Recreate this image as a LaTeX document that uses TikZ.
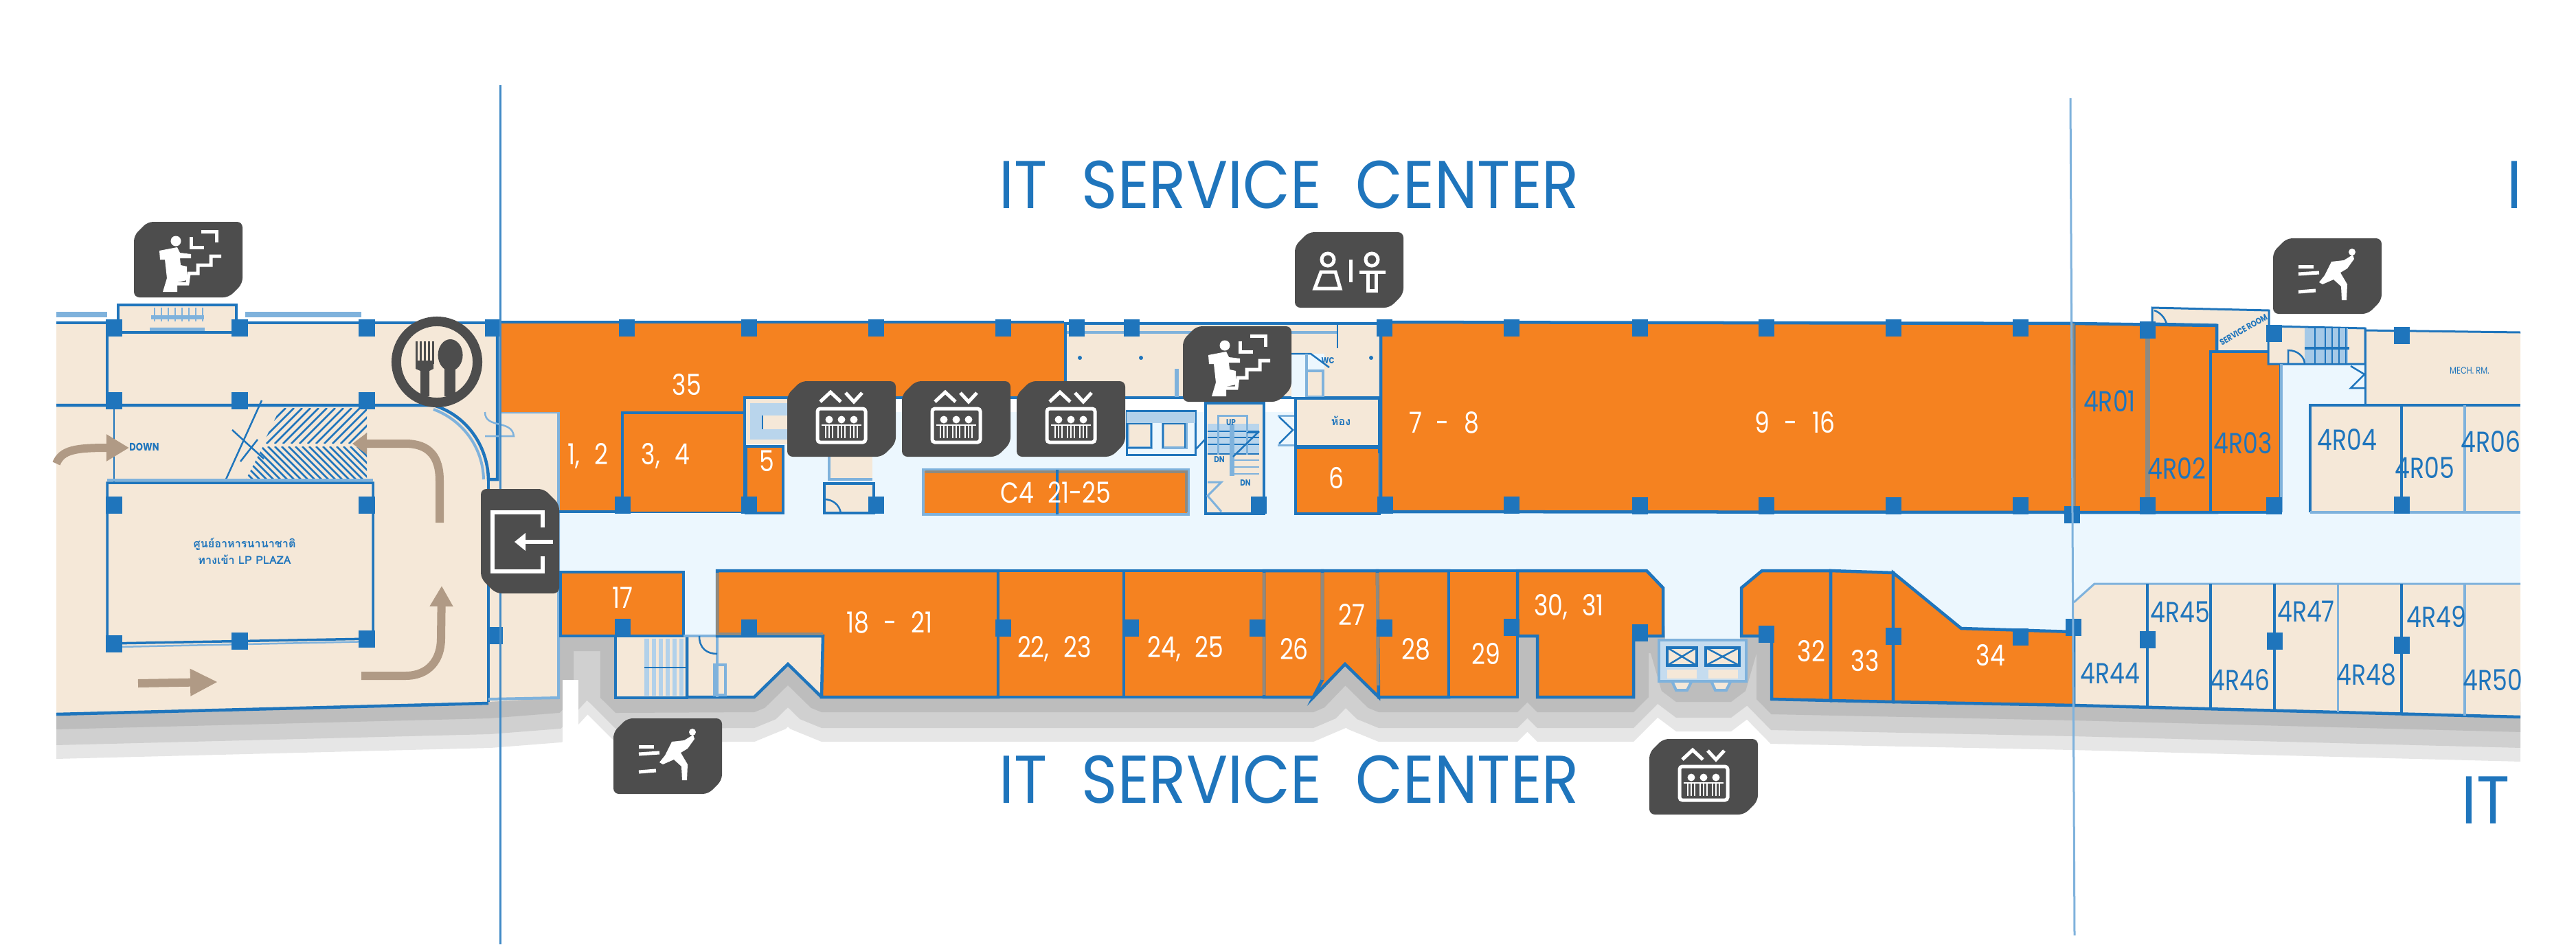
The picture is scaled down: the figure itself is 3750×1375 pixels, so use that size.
\documentclass[tikz,border=0pt]{standalone}
\usepackage{fontspec}
\usepackage{tikz}
\usetikzlibrary{calc, arrows.meta}
\setmainfont{Poppins}
\newfontfamily\unitfont[FakeStretch=0.82]{Poppins}
\newfontfamily\rfont[FakeStretch=0.82]{Poppins}
\newfontfamily\titlefont[FakeStretch=0.905]{Poppins}
\newfontfamily\thaifont[Script=Thai]{Loma}
\definecolor{wallblue}{HTML}{1F75BC}
\definecolor{lightwall}{HTML}{7FB2DC}
\definecolor{greywall}{HTML}{8F8A80}
\definecolor{shoporange}{HTML}{F58220}
\definecolor{roomcream}{HTML}{F5E8D8}
\definecolor{walkway}{HTML}{ECF7FE}
\definecolor{signgrey}{HTML}{4D4D4D}
\definecolor{arrowtan}{HTML}{B09A85}
\newcommand{\signbody}{\fill[signgrey, rounded corners=0.08cm] (-79,-35) -- (-59,-55) -- (79,-55) -- (79,35) -- (59,55) -- (-79,55) -- cycle;}
\newcommand{\wordgap}{\hspace{0.5cm}}
\newcommand{\unitsetup}{\unitfont\fontsize{12}{12}\selectfont\spaceskip=0.5em\relax}
\tikzset{
  wall/.style={draw=wallblue, line width=0.045cm},
  thinwall/.style={draw=wallblue, line width=0.025cm},
  softwall/.style={draw=lightwall, line width=0.04cm},
  dullwall/.style={draw=greywall, line width=0.045cm},
  shop/.style={fill=shoporange, wall},
  room/.style={fill=roomcream, wall},
  colbox/.style={fill=wallblue, minimum width=0.23cm, minimum height=0.25cm, inner sep=0pt},
  unitlabel/.style={text=white, font=\unitsetup, inner sep=0pt},
  rlabel/.style={text=wallblue, font=\rfont\fontsize{12}{12}\selectfont, inner sep=0pt},
  tinylabel/.style={text=wallblue, font=\rfont\bfseries\fontsize{3.6}{4}\selectfont, inner sep=0pt},
  thailabel/.style={text=wallblue, font=\thaifont\bfseries\fontsize{4.6}{5}\selectfont, inner sep=0pt},
  bigtitle/.style={text=wallblue, font=\titlefont\fontsize{28}{28}\selectfont, inner sep=0pt},
  glyph/.style={draw=white, line width=0.05cm},
  tanarrow/.style={draw=arrowtan, line width=0.12cm},
  liftsign/.pic={
    \signbody
    \draw[glyph] (-31,-25) -- (-16,-39) -- (-1,-25);
    \draw[glyph] (6,-38) -- (18,-25) -- (30,-38);
    \draw[glyph, rounded corners=0.04cm] (-35,-15) rectangle (35,34);
    \draw[draw=white, line width=0.025cm] (-29,9) -- (29,9);
    \foreach \p in {-18,0,18} {
      \fill[white] (\p,1) circle [radius=0.055cm];
      \foreach \q in {-5,0,5} \draw[draw=white, line width=0.027cm] (\p+\q,9) -- (\p+\q,28);
    }
  },
  stairsign/.pic={
    \signbody
    \fill[white] (-18,-27) circle [radius=0.075cm];
    \fill[white] (-42,-13) -- (-16,-18) -- (-12,-10) -- (4,-8) -- (4,-2) -- (-12,-2) -- (-11,8) -- (-2,10) -- (-2,30) -- (-16,33) -- (-16,47) -- (-37,47) -- (-31,27) -- (-34,0) -- (-41,0) -- cycle;
    \draw[glyph] (-16,35) -- (-1,35) -- (1,20) -- (14,20) -- (14,8) -- (33,8) -- (33,-5) -- (48,-5);
    \draw[glyph] (19,-41) -- (41,-41) -- (41,-25);
    \draw[glyph] (4,-33) -- (4,-18) -- (23,-18);
  },
  runsign/.pic={
    \signbody
    \fill[white] (-4,-1) -- (6,-21) -- (24,-23) -- (37,-31) -- (39,-25) -- (29,-11) -- (19,-5) -- (29,12) -- (28,35) -- (21,35) -- (20,15) -- (9,5) -- (-7,12) -- (-12,9) -- cycle;
    \fill[white] (36,-35) circle [radius=0.05cm];
    \draw[glyph, line width=0.05cm] (-42,-14) -- (-20,-14);
    \draw[glyph, line width=0.05cm] (-42,-3) -- (-12,-5);
    \draw[glyph, line width=0.05cm] (-42,23) -- (-17,21);
  },
  wcsign/.pic={
    \signbody
    \draw[glyph] (-31,-15) circle [radius=0.09cm];
    \draw[glyph] (33,-15) circle [radius=0.09cm];
    \draw[glyph] (-41,3) -- (-20,3) -- (-13,27) -- (-50,27) -- cycle;
    \draw[glyph] (15,3) -- (53,3) -- (39,3) -- (39,30) -- (27,30) -- (27,3);
    \draw[glyph] (2,-15) -- (2,18);
  },
  exitsign/.pic={
    \fill[signgrey, rounded corners=0.08cm] (-57,-76) -- (35,-76) -- (57,-54) -- (57,76) -- (-35,76) -- (-57,54) -- cycle;
    \draw[glyph, line width=0.055cm] (33,-20) -- (33,-42) -- (-40,-42) -- (-40,44) -- (33,44) -- (33,22);
    \draw[draw=white, line width=0.06cm] (48,1) -- (4,1);
    \fill[white] (-8,1) -- (8,-12) -- (8,14) -- cycle;
  }
}
\begin{document}
\begin{tikzpicture}[-, x=0.01cm, y=-0.01cm]
\useasboundingbox (0,0) rectangle (3750,1375);
\begin{scope}
\clip (82,400) rectangle (3669,1200);
\foreach \w/\c in {1.3/E6E6E6, 0.9/D0D0D0, 0.44/BDBDBD} {
  \definecolor{shadowtone}{HTML}{\c}
  \draw[draw=shadowtone, line width=\w cm, line join=bevel] (0,1042) -- (711,1024) -- (813,1016) -- (813,926) -- (896,926) -- (896,1016) -- (1098,1015) -- (1147,967) -- (1196,1015) -- (1912,1015) -- (1958,967) -- (2007,1015) -- (2209,1015) -- (2209,926) -- (2238,926) -- (2238,1015) -- (2378,1015) -- (2378,926) -- (2420,931) -- (2440,1000) -- (2520,1000) -- (2540,931) -- (2579,926) -- (2579,1018) -- (3019,1027) -- (3750,1046);
}
\fill[white] (819,990) rectangle (842,1085);
\end{scope}
\fill[walkway] (813,600) -- (3320,600) -- (3320,530) -- (3442,530) -- (3442,590) -- (3363,590) -- (3363,746) -- (3669,746) -- (3669,850) -- (3049,850) -- (3019,877) -- (3019,920) -- (2855,915) -- (2756,834) -- (2565,831) -- (2535,856) -- (2533,931) -- (2424,931) -- (2421,856) -- (2397,831) -- (1044,831) -- (1044,926) -- (995,926) -- (995,833) -- (813,833) -- cycle;
\fill[roomcream] (82,470) -- (728,470) -- (728,600) -- (813,600) -- (813,1016) -- (711,1022) -- (82,1040) -- cycle;
\draw[wall] (82,470) -- (156,470);
\draw[wall] (344,470) -- (728,470);
\draw[softwall, line width=0.08cm] (82,458) -- (156,458);
\draw[softwall, line width=0.08cm] (357,458) -- (526,458);
\draw[room] (172,484) -- (172,444) -- (344,444) -- (344,484) -- cycle;
\draw[softwall, line width=0.06cm] (220,462) -- (297,462);
\foreach \t in {225,235,...,295} \draw[softwall, line width=0.02cm] (\t,448) -- (\t,468);
\draw[softwall, line width=0.05cm] (218,479) -- (298,479);
\draw[wall] (156,470) -- (156,590);
\draw[wall] (82,590) -- (631,590) .. controls (680,605) and (710,650) .. (711,698) -- (724,698) -- (724,470);
\draw[softwall] (631,596) .. controls (672,611) and (703,650) .. (704,698);
\draw[thinwall] (166,590) -- (166,703);
\draw[wall] (711,698) -- (711,1022);
\draw[wall] (82,1040) -- (711,1024);
\draw[softwall] (711,1018) -- (813,1016) -- (813,600) -- (728,600);
\begin{scope}
\clip (408,594) -- (534,594) -- (534,646) -- (383,646) -- cycle;
\foreach \h in {340,352,...,540} \draw[thinwall] (\h,646) -- (\h+52,594);
\end{scope}
\begin{scope}
\clip (383,650) -- (534,650) -- (534,698) -- (358,698) -- cycle;
\foreach \h in {310,320,...,540} \draw[thinwall] (\h,650) -- (\h+48,698);
\end{scope}
\draw[thinwall] (328,700) -- (381,583);
\draw[thinwall] (338,626) -- (384,668);
\draw[thinwall] (350,672) -- (375,640);
\draw[softwall, line width=0.025cm] (706,600) .. controls (706,625) and (745,610) .. (748,635) -- (706,635);
\draw[tanarrow, -{Triangle[width=0.37cm, length=0.33cm]}] (82,675) .. controls (90,655) and (110,652) .. (188,652);
\draw[tanarrow, -{Triangle[width=0.3cm, length=0.21cm]}] (640,761) -- (640,700) .. controls (640,665) and (625,646) .. (590,646) -- (513,646);
\draw[tanarrow, -{Triangle[width=0.32cm, length=0.3cm]}] (526,984) -- (590,984) .. controls (625,984) and (642,960) .. (642,930) -- (643,853);
\draw[tanarrow, -{Triangle[width=0.37cm, length=0.4cm]}] (201,995) -- (317,993);
\draw[room, thinwall, line width=0.035cm] (156,703) -- (543,703) -- (543,930) -- (156,937) -- cycle;
\draw[softwall] (156,699) -- (543,699);
\draw[softwall, line width=0.025cm] (170,942) -- (543,934);
\node[thailabel] (foodname) at (356,792) {ศูนย์อาหารนานาชาติ};
\node[thailabel] (foodplaza) at (356,815) {ทางเข้า LP PLAZA};
\node[tinylabel, font=\rfont\bfseries\fontsize{4.5}{5}\selectfont] (downmark) at (210,651) {DOWN};
\draw[shop, draw=none] (728,469) -- (1549,469) -- (1549,579) -- (1084,579) -- (1084,601) -- (906,601) -- (906,745) -- (813,745) -- (813,600) -- (728,600) -- cycle;
\draw[wall] (728,469) -- (1549,469);
\draw[softwall] (813,600) -- (813,745);
\draw[wall] (813,745) -- (1086,745);
\draw[wall] (906,745) -- (906,601) -- (1084,601) -- (1084,579);
\draw[shop, draw=none] (906,601) rectangle (1084,745);
\draw[wall] (906,745) -- (906,601) -- (1084,601) -- (1084,745);
\fill[roomcream] (1084,579) rectangle (1151,647);
\draw[wall] (1084,647) -- (1084,579) -- (1549,579);
\fill[lightwall!55] (1092,587) rectangle (1150,640);
\fill[roomcream] (1110,605) rectangle (1150,625);
\draw[thinwall] (1110,605) -- (1110,625);
\draw[shop] (1086,650) rectangle (1140,747);
\fill[roomcream] (1207,663) rectangle (1270,698);
\draw[softwall] (1207,663) -- (1207,698) -- (1270,698);
\draw[room, thinwall, line width=0.035cm] (1200,704) rectangle (1272,747);
\draw[thinwall] (1200,727) .. controls (1212,727) and (1222,735) .. (1224,747);
\draw[softwall, fill=roomcream] (1642,612) rectangle (1676,652);
\draw[softwall, fill=roomcream] (1693,612) rectangle (1727,652);
\draw[wall, draw=wallblue, line width=0.03cm] (1640,598) rectangle (1740,662);
\fill[lightwall!60] (1640,600) rectangle (1740,616);
\draw[thinwall] (1640,617) -- (1676,617) -- (1676,652) -- (1642,652);
\draw[thinwall] (1693,652) -- (1693,617) -- (1725,617) -- (1725,652);
\draw[thinwall] (1740,655) -- (1754,640);
\draw[room] (1551,471) -- (2010,471) -- (2010,579) -- (1551,579) -- cycle;
\fill[walkway] (1880,515) -- (1928,515) -- (1928,578) -- (1880,578) -- cycle;
\draw[softwall] (1553,484) -- (1947,484);
\draw[thinwall] (1880,515) -- (1908,515) -- (1935,535);
\draw[softwall, fill=roomcream] (1902,515) -- (1902,578) -- (1926,578) -- (1926,540) -- (1902,540);
\draw[thinwall] (1947,471) -- (1947,507);
\draw[softwall, line width=0.06cm] (1713,537) -- (1713,578);
\foreach \dx in {1572,1661,1996} \fill[wallblue] (\dx,521) circle [radius=0.03cm];
\draw[room] (1755,587) rectangle (1840,748);
\fill[lightwall!55] (1758,617) rectangle (1833,662);
\foreach \s in {628,637,647,661} \draw[thinwall] (1758,\s) -- (1833,\s);
\foreach \s in {670,680,690} \draw[softwall, line width=0.02cm] (1793,\s) -- (1833,\s);
\draw[softwall, line width=0.03cm] (1773,662) -- (1773,605) -- (1815,605) -- (1815,662);
\draw[softwall, line width=0.07cm] (1793,617) -- (1793,693);
\draw[thinwall] (1815,630) -- (1833,630);
\draw[thinwall] (1795,665) -- (1833,628);
\draw[softwall, line width=0.03cm] (1758,702) -- (1778,702) -- (1758,722) -- (1778,745);
\draw[softwall, line width=0.03cm] (1860,605) -- (1885,605);
\draw[softwall, line width=0.03cm] (1860,648) -- (1885,648);
\draw[thinwall] (1862,607) -- (1882,626) -- (1862,646);
\draw[room] (1886,580) rectangle (2008,650);
\draw[shop] (1886,652) rectangle (2008,748);
\draw[dullwall] (2008,660) -- (2008,740);
\draw[shop] (2010,469) -- (3019,471) -- (3019,746) -- (2010,745) -- cycle;
\draw[shop, draw=lightwall] (1344,684) rectangle (1730,749);
\draw[dullwall] (1347,687) -- (1727,687) -- (1727,746);
\draw[wall] (1539,684) -- (1539,749);
\draw[room, thinwall, line width=0.03cm] (3133,448) -- (3303,452) -- (3303,512) -- (3227,512) -- (3227,473) -- (3133,471) -- cycle;
\draw[thinwall] (3136,452) .. controls (3145,455) and (3152,463) .. (3154,472);
\draw[shop] (3019,471) -- (3227,474) -- (3227,746) -- (3019,746) -- cycle;
\draw[shop] (3218,512) -- (3320,512) -- (3320,746) -- (3218,746) -- cycle;
\draw[dullwall, line width=0.07cm] (3126,475) -- (3126,746);
\draw[dullwall, line width=0.06cm] (3017,471) -- (3018,746);
\draw[room, line width=0.03cm] (3302,475) -- (3443,478) -- (3443,530) -- (3302,530) -- cycle;
\fill[lightwall!70] (3355,478) rectangle (3418,528);
\foreach \t in {3370,3385,3395,3405,3415} \draw[thinwall] (\t,478) -- (\t,530);
\draw[wall] (3355,507) -- (3420,507);
\draw[thinwall] (3331,530) -- (3331,510) .. controls (3345,510) and (3355,520) .. (3355,530);
\draw[thinwall] (3422,533) -- (3442,545) -- (3422,565) -- (3442,565);
\draw[softwall] (3321,530) -- (3321,746);
\fill[roomcream] (3443,481) -- (3669,484) -- (3669,589) -- (3443,589) -- cycle;
\draw[wall, line width=0.03cm] (3443,481) -- (3669,484);
\draw[wall, line width=0.03cm] (3443,478) -- (3443,589) -- (3669,589);
\fill[roomcream] (3363,590) rectangle (3669,746);
\draw[wall, line width=0.035cm] (3669,590) -- (3363,590) -- (3363,746);
\draw[softwall] (3363,746) -- (3669,746);
\draw[thinwall, line width=0.035cm] (3496,590) -- (3496,746);
\draw[softwall] (3588,590) -- (3588,746);
\fill[roomcream] (3019,877) -- (3049,850) -- (3669,850) -- (3669,1044) -- (3019,1027) -- cycle;
\draw[softwall, line width=0.03cm] (3019,877) -- (3049,850) -- (3669,850);
\draw[wall] (3019,1027) -- (3669,1044);
\draw[wall] (3126,850) -- (3126,1030);
\draw[thinwall, line width=0.035cm] (3218,850) -- (3218,1032);
\draw[wall] (3311,850) -- (3311,1035);
\draw[softwall, line width=0.03cm] (3403,850) -- (3403,1037);
\draw[wall] (3496,850) -- (3496,1039);
\draw[softwall] (3588,850) -- (3588,1042);
\draw[shop] (816,833) rectangle (995,926);
\draw[room] (896,926) -- (1000,926) -- (1000,1016) -- (896,1016) -- cycle;
\fill[lightwall!60] (938,930) rectangle (1000,1013);
\foreach \t in {945,955,...,995} \fill[roomcream] (\t,930) rectangle (\t+4,1013);
\draw[thinwall] (938,972) -- (1000,972);
\fill[roomcream] (1000,926) -- (1198,926) -- (1196,1015) -- (1147,967) -- (1098,1015) -- (1000,1015) -- cycle;
\draw[wall] (1000,926) -- (1000,1015) -- (1098,1015) -- (1147,967) -- (1196,1015);
\draw[softwall] (995,926) -- (1044,926);
\draw[softwall] (1044,926) -- (1044,1015);
\draw[thinwall] (1018,926) .. controls (1018,945) and (1030,952) .. (1044,952);
\draw[softwall] (1040,968) rectangle (1056,1012);
\draw[shop] (1044,831) -- (1453,831) -- (1453,1015) -- (1196,1015) -- (1198,926) -- (1044,926) -- cycle;
\draw[dullwall] (1044,834) -- (1044,923) -- (1198,923);
\draw[shop] (1453,831) rectangle (1636,1015);
\draw[shop] (1636,831) rectangle (1840,1015);
\draw[shop] (1840,831) -- (1925,831) -- (1925,990) -- (1912,1015) -- (1840,1015) -- cycle;
\draw[shop] (1925,831) -- (2005,831) -- (2007,1015) -- (1958,967) -- (1912,1015) -- (1925,990) -- cycle;
\draw[shop] (2005,831) -- (2109,831) -- (2109,1015) -- (2007,1015) -- cycle;
\draw[dullwall] (1840,834) -- (1840,1012);
\draw[dullwall] (1925,834) -- (1925,990);
\draw[dullwall] (2005,834) -- (2006,998);
\draw[shop] (2109,831) rectangle (2209,1015);
\draw[shop] (2209,831) -- (2397,831) -- (2421,856) -- (2421,926) -- (2378,926) -- (2378,1015) -- (2238,1015) -- (2238,926) -- (2209,926) -- cycle;
\draw[shop] (2565,831) -- (2665,831) -- (2665,1020) -- (2579,1018) -- (2579,926) -- (2535,926) -- (2535,856) -- cycle;
\draw[shop] (2665,831) -- (2756,834) -- (2756,1022) -- (2665,1020) -- cycle;
\draw[shop] (2756,834) -- (2855,915) -- (3019,920) -- (3019,1027) -- (2756,1022) -- cycle;
\draw[softwall, fill=roomcream] (2430,983) -- (2467,983) -- (2456,1005) -- (2440,1005) -- cycle;
\draw[softwall, fill=roomcream] (2487,983) -- (2524,983) -- (2513,1005) -- (2497,1005) -- cycle;
\draw[softwall, fill=lightwall!45] (2415,932) -- (2542,932) -- (2542,992) -- (2415,992) -- cycle;
\draw[thinwall, line width=0.035cm, fill=roomcream] (2427,943) rectangle (2470,969);
\draw[thinwall, line width=0.035cm, fill=roomcream] (2483,943) rectangle (2532,969);
\draw[thinwall] (2427,943) -- (2470,969);
\draw[thinwall] (2427,969) -- (2470,943);
\draw[thinwall] (2483,943) -- (2532,969);
\draw[thinwall] (2483,969) -- (2532,943);
\fill[roomcream] (2427,975) rectangle (2470,988);
\fill[roomcream] (2487,975) rectangle (2530,988);
\foreach \cx/\cy [count=\ci] in {166/477, 349/477, 534/477, 717/477, 166/583, 349/583, 534/583, 166/735, 534/735, 166/937, 349/933, 534/930, 720/925, 912/477, 906/735, 906/913, 1090/477, 1275/477, 1460/477, 1567/477, 1647/477, 2015/477, 2200/477, 2387/477, 2571/477, 2756/477, 2941/477, 1090/735, 1275/735, 1832/735, 2016/735, 2200/735, 2387/736, 2571/736, 2756/736, 2941/736, 1090/914, 1460/914, 1646/914, 1830/914, 2015/914, 2200/913, 2387/921, 2571/923, 2756/926, 2941/927, 3016/749, 3126/480, 3126/736, 3310/736, 3310/485, 3496/735, 3496/488, 3018/913, 3126/931, 3311/933, 3496/939}
  \node[colbox] (col\ci) at (\cx,\cy) {};
\node[tinylabel] (wcmark) at (1933,525) {WC};
\node[tinylabel] (upmark) at (1792,615) {UP};
\node[tinylabel] (dnmark) at (1775,669) {DN};
\node[tinylabel] (dnmarkb) at (1813,703) {DN};
\node[thailabel] (roommark) at (1952,613) {ห้อง};
\node[tinylabel, rotate=30] (servicemark) at (3266,480) {SERVICE ROOM};
\node[tinylabel, font=\rfont\fontsize{4}{5}\selectfont] (mechroom) at (3595,540) {MECH. RM.};
\node[unitlabel] (unit35) at (1000,560) {35};
\node[unitlabel] (unit12) at (856,664) {1, 2};
\node[unitlabel] (unit34) at (969,664) {3, 4};
\node[unitlabel] (unit5) at (1116,671) {5};
\node[unitlabel] (unit6) at (1945,696) {6};
\node[unitlabel] (unit78) at (2102,615) {7 - 8};
\node[unitlabel] (unit916) at (2613,615) {9 - 16};
\node[unitlabel] (unitc4) at (1537,717) {C4 21-25};
\node[unitlabel] (unit17) at (906,870) {17};
\node[unitlabel] (unit1821) at (1295,906) {18 - 21};
\node[unitlabel] (unit2223) at (1535,945) {22, 23};
\node[unitlabel] (unit2425) at (1726,945) {24, 25};
\node[unitlabel] (unit26) at (1884,945) {26};
\node[unitlabel] (unit27) at (1968,895) {27};
\node[unitlabel] (unit28) at (2061,945) {28};
\node[unitlabel] (unit29) at (2163,952) {29};
\node[unitlabel] (unit3031) at (2284,884) {30, 31};
\node[unitlabel] (unit32) at (2637,948) {32};
\node[unitlabel] (unit33) at (2715,962) {33};
\node[unitlabel] (unit34b) at (2898,954) {34};
\node[rlabel] (r01) at (3071,584) {4R01};
\node[rlabel] (r02) at (3169,682) {4R02};
\node[rlabel] (r03) at (3265,645) {4R03};
\node[rlabel] (r04) at (3417,640) {4R04};
\node[rlabel] (r05) at (3530,681) {4R05};
\node[rlabel] (r44) at (3072,980) {4R44};
\node[rlabel] (r45) at (3174,891) {4R45};
\node[rlabel] (r46) at (3261,990) {4R46};
\node[rlabel] (r47) at (3357,890) {4R47};
\node[rlabel] (r48) at (3445,982) {4R48};
\node[rlabel] (r49) at (3547,898) {4R49};
\begin{scope}
\clip (3000,100) rectangle (3669,1300);
\node[rlabel] (r06) at (3626,643) {4R06};
\node[rlabel] (r50) at (3629,990) {4R50};
\node[bigtitle, anchor=west] (titlecut) at (3649,269) {IT};
\node[bigtitle, anchor=west] (titlecutb) at (3583,1165) {IT};
\end{scope}
\node[bigtitle] (titletop) at (1877,269) {IT\wordgap SERVICE\wordgap CENTER};
\node[bigtitle] (titlebot) at (1877,1135) {IT\wordgap SERVICE\wordgap CENTER};
\draw[draw=wallblue!85, line width=0.03cm] (728,124) -- (728,1375);
\draw[draw=lightwall, line width=0.03cm] (3014,143) -- (3020,1362);
\node[circle, draw=signgrey, fill=roomcream, line width=0.14cm, minimum size=1.18cm, inner sep=0pt] (foodsign) at (636,527) {};
\foreach \t in {606,612,618,624,630} \draw[draw=signgrey, line width=0.03cm] (\t,497) -- (\t,530);
\fill[signgrey] (605,525) -- (631,525) -- (631,537) -- (625,540) -- (625,577) -- (612,577) -- (612,540) -- (605,537) -- cycle;
\fill[signgrey] (655.6,517) ellipse [x radius=0.18cm, y radius=0.23cm];
\fill[signgrey] (647,530) rectangle (663,577);
\pic at (274,378) {stairsign};
\pic at (1225,610) {liftsign};
\pic at (1392,610) {liftsign};
\pic at (1559,610) {liftsign};
\pic at (1801,530) {stairsign};
\pic at (1964,393) {wcsign};
\pic at (972,1101) {runsign};
\pic at (3388,402) {runsign};
\pic at (2480,1131) {liftsign};
\pic at (757,788) {exitsign};
\end{tikzpicture}
\end{document}
